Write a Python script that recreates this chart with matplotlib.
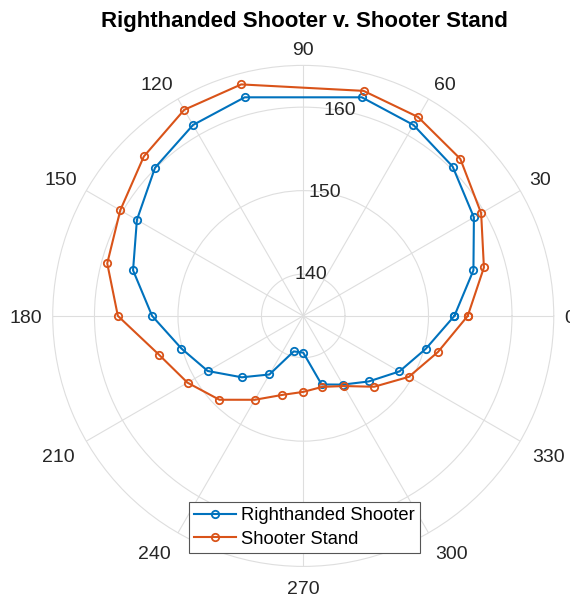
import numpy as np
import matplotlib
matplotlib.use("Agg")
import matplotlib.pyplot as plt
from matplotlib.transforms import offset_copy

plt.rcParams["font.family"] = ["Liberation Sans", "DejaVu Sans"]

# angles in degrees (no measurement at 90), closed back to 0
angles_deg = [0, 15, 30, 45, 60, 75, 105, 120, 135, 150, 165, 180,
              195, 210, 225, 240, 255, 270, 285, 300, 315, 330, 345, 360]
righthanded = [153.1, 156.1, 158.6, 160.3, 161.4, 162.1, 162.1, 161.4, 160.1, 158.0, 156.1, 153.1,
               150.1, 148.2, 145.4, 143.1, 139.4, 139.4, 143.5, 144.5, 146.1, 148.3, 150.2, 153.1]
shooter_stand = [154.7, 157.4, 159.6, 161.6, 162.5, 162.9, 163.7, 163.5, 162.0, 160.3, 159.3, 157.2,
                 152.9, 151.0, 149.2, 146.6, 144.8, 144.1, 143.8, 144.7, 147.0, 149.6, 151.7, 154.7]
series_labels = ["Righthanded Shooter", "Shooter Stand"]
r_ticks = [140, 150, 160]
r_limits = (135, 165)
theta_ticks = list(range(0, 360, 30))

BLUE = "#0072BD"
ORANGE = "#D95319"
GRID = "#dedede"
TXT = "#262626"
FS = 14

fig = plt.figure(figsize=(5.7, 6.0), dpi=100)
ax = fig.add_axes([0.0925, 0.0555, 0.879, 0.836], projection="polar")

theta = np.deg2rad(angles_deg)
for vals, col, lab in zip([righthanded, shooter_stand], [BLUE, ORANGE], series_labels):
    ax.plot(theta, vals, color=col, linewidth=1.5, marker="o", markersize=5.3,
            markerfacecolor="none", markeredgewidth=1.3, label=lab)

ax.set_ylim(*r_limits)
ax.set_rgrids(r_ticks)
ax.set_yticklabels([])
for r in r_ticks:
    ax.text(np.deg2rad(80), r, str(r), ha="center", va="center", fontsize=FS, color=TXT)

# theta labels MATLAB style: label corner anchored just outside the ring
ax.set_thetagrids(theta_ticks, [""] * len(theta_ticks))
ax_px = 0.879 * 570
cap = 0.716 * FS  # digit height in points
for t in theta_ticks:
    a = np.deg2rad(t)
    c, s = np.cos(a), np.sin(a)
    ha = "center" if abs(c) < 1e-6 else ("left" if c > 0 else "right")
    if abs(s) < 1e-6:
        dy, gap = -cap / 2, 10.5
    elif s > 0:
        dy, gap = 0, 10.5
    else:
        dy, gap = -cap, 14
    rr = 0.5 + gap / ax_px
    tr = offset_copy(ax.transAxes, fig=fig, x=0, y=dy, units="points")
    ax.text(0.5 + rr * c, 0.5 + rr * s, str(t), transform=tr, ha=ha, va="baseline",
            fontsize=FS, color=TXT, clip_on=False)

ax.grid(color=GRID, linewidth=0.8)
ax.spines["polar"].set_color(GRID)
ax.spines["polar"].set_linewidth(0.8)

fig.text(0.534, 1 - 26.7 / 600, "Righthanded Shooter v. Shooter Stand", fontsize=16,
         fontweight="bold", ha="center", va="baseline")

leg = ax.legend(loc="lower center", bbox_to_anchor=(0.534, 0.078),
                bbox_transform=fig.transFigure, fontsize=13.2, fancybox=False,
                framealpha=1, edgecolor="#555555", borderpad=0.3, labelspacing=0.35,
                handlelength=2.3, handletextpad=0.25, borderaxespad=0)
leg.get_frame().set_linewidth(0.8)

fig.savefig("out.png", dpi=100)
